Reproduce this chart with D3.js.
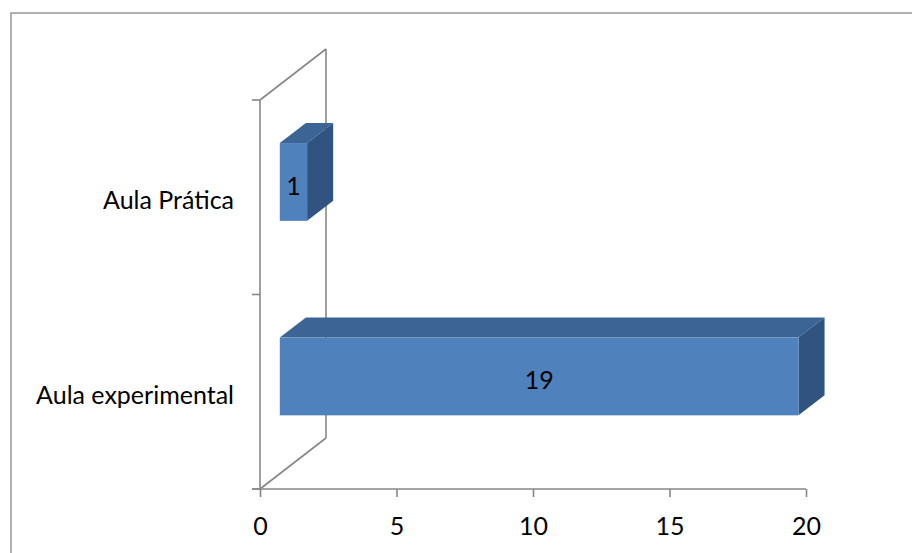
<!DOCTYPE html>
<html>
<head>
<meta charset="utf-8">
<script src="https://cdn.jsdelivr.net/npm/d3@7"></script>
<style>
  html, body { margin: 0; padding: 0; background: #fff; }
  svg { display: block; }
  text { font-family: Lato, "Open Sans", sans-serif; fill: #000; }
</style>
</head>
<body>
<svg id="chart" width="912" height="553"></svg>
<script>
// Data
const categories = ["Aula experimental", "Aula Prática"];
const values = [19, 1];
const xTicks = [0, 5, 10, 15, 20];

(function () {
const svg = d3.select("#chart");
const W = 912, H = 553;
const FS = 25;

// Outer chart border
svg.append("rect")
  .attr("x", 11).attr("y", 13)
  .attr("width", W + 20).attr("height", H + 20)
  .attr("fill", "#fff").attr("stroke", "#888").attr("stroke-width", 1.3);

// Scales
const x = d3.scaleLinear().domain([0, 20]).range([260, 806]);
const y = d3.scaleBand().domain(categories).range([489, 100]);
const depth = { dx: 66, dy: -51 };
const f0 = 0.30, f1 = 0.695;     // bar front / back depth fractions
const barFrac = 0.40;            // bar height relative to band

const P = (vx, vy, f) => [x(vx) + f * depth.dx, vy + f * depth.dy];

const axisColor = "#878787";
const g = svg.append("g");

// Walls (side wall + floor edges)
const y0 = y.range()[0], y1 = y.range()[1];
const lines = [
  [P(0, y1, 0), P(0, y0, 0)],     // front y axis
  [P(0, y1, 1), P(0, y0, 1)],     // back wall vertical
  [P(0, y1, 0), P(0, y1, 1)],     // top diagonal
  [P(0, y0, 0), P(0, y0, 1)],     // floor diagonal
];
lines.forEach(l => g.append("line")
  .attr("x1", l[0][0]).attr("y1", l[0][1])
  .attr("x2", l[1][0]).attr("y2", l[1][1])
  .attr("stroke", axisColor).attr("stroke-width", 1.6));

// Y-axis category ticks (band boundaries)
const yTickPos = [y0, y(categories[1]) + y.bandwidth(), y1];
yTickPos.forEach(t => g.append("line")
  .attr("x1", x(0) - 8).attr("x2", x(0))
  .attr("y1", t).attr("y2", t)
  .attr("stroke", axisColor).attr("stroke-width", 1.6));

// X axis
const xAxis = d3.axisBottom(x).tickValues(xTicks).tickSize(8).tickSizeOuter(0).tickPadding(20);
const xg = svg.append("g").attr("transform", `translate(0,${y0})`).call(xAxis);
xg.select(".domain").attr("stroke", axisColor).attr("stroke-width", 1.6)
  .attr("d", `M${x(0) - 8},0H${x(20)}`);
xg.selectAll(".tick line").attr("stroke", axisColor).attr("stroke-width", 1.6);
xg.selectAll(".tick text").style("font-family", "Lato, sans-serif")
  .attr("font-size", FS).attr("fill", "#000");

// Y category labels
categories.forEach(c => {
  svg.append("text")
    .attr("x", 234)
    .attr("y", y(c) + y.bandwidth() / 2 + 2)
    .attr("text-anchor", "end")
    .attr("dominant-baseline", "central")
    .attr("font-size", FS)
    .text(c);
});

// Bars (3D)
const cFront = "#4F81BD", cTop = "#3C6596", cSide = "#30537F";
categories.forEach((c, i) => {
  const v = values[i];
  const cy = y(c) + y.bandwidth() / 2;
  const h = y.bandwidth() * barFrac;
  const yt = cy - h / 2, yb = cy + h / 2;
  const poly = pts => pts.map(p => p.join(",")).join(" ");
  svg.append("polygon").attr("points", poly([P(0, yt, f0), P(v, yt, f0), P(v, yt, f1), P(0, yt, f1)]))
    .attr("fill", cTop);
  svg.append("polygon").attr("points", poly([P(v, yt, f0), P(v, yt, f1), P(v, yb, f1), P(v, yb, f0)]))
    .attr("fill", cSide);
  const a = P(0, yt, f0), b = P(v, yb, f0);
  svg.append("rect").attr("x", a[0]).attr("y", a[1])
    .attr("width", b[0] - a[0]).attr("height", b[1] - a[1]).attr("fill", cFront);
  svg.append("text")
    .attr("x", (a[0] + b[0]) / 2)
    .attr("y", (a[1] + b[1]) / 2 + 3)
    .attr("text-anchor", "middle")
    .attr("dominant-baseline", "central")
    .attr("font-size", FS)
    .text(v);
});
})();
</script>
</body>
</html>
